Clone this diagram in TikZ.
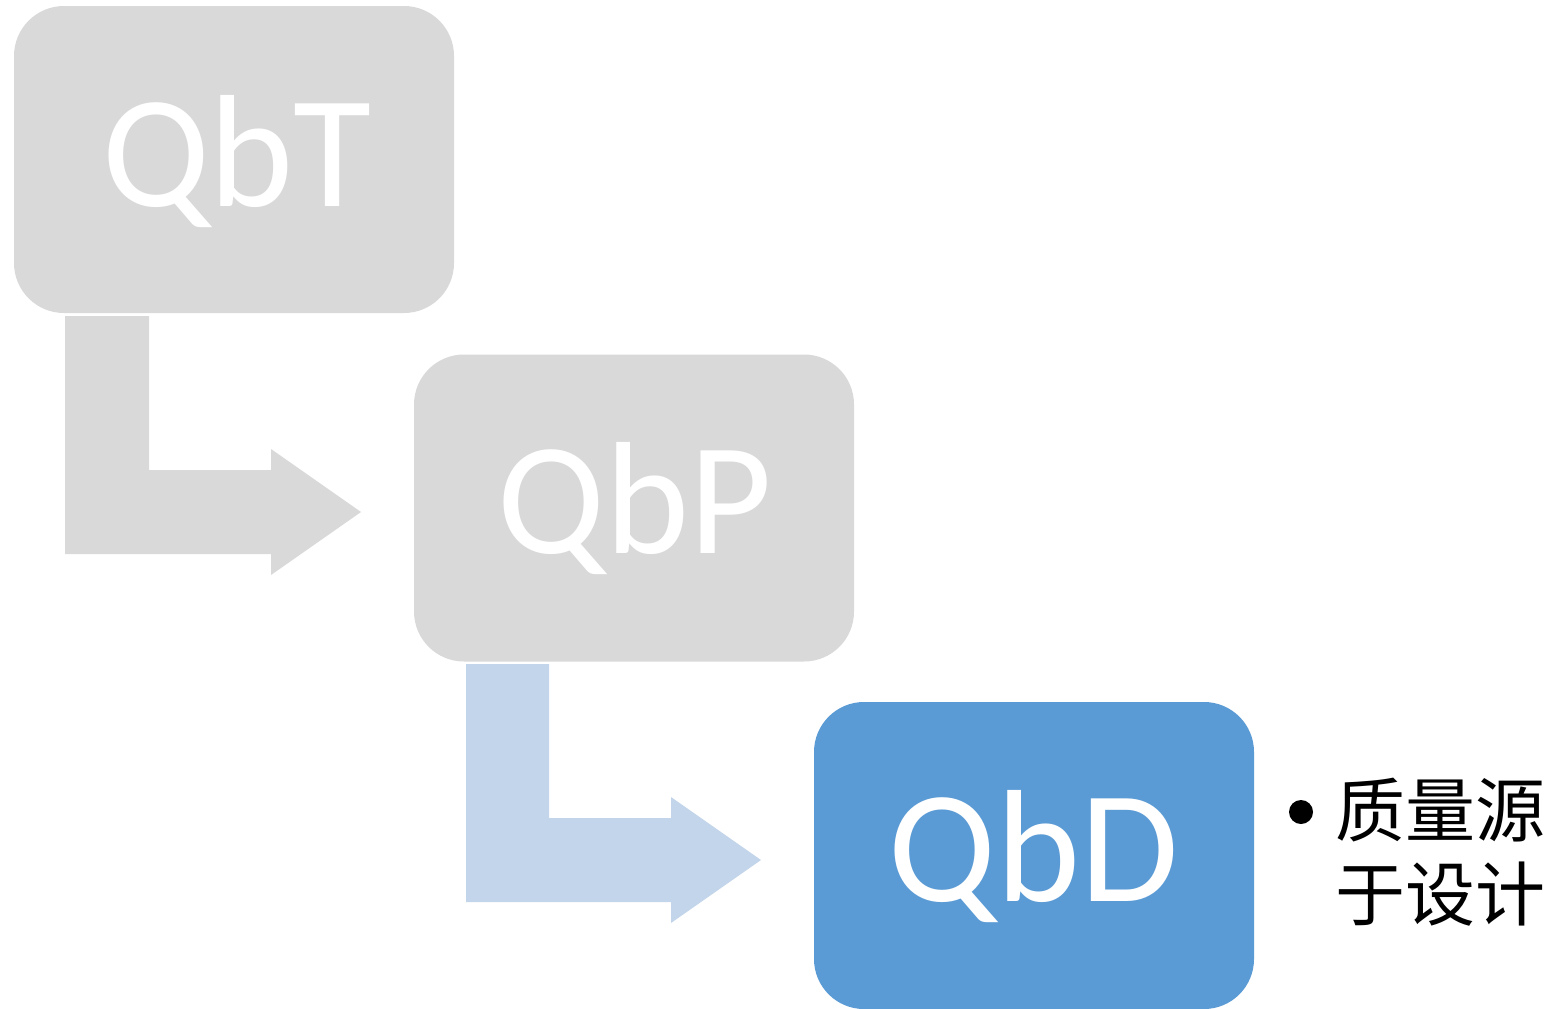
\documentclass[tikz,border=0pt]{standalone}
\usepackage{fontspec}
\setmainfont{Carlito}
\newfontfamily\cjk{Noto Sans CJK SC}
\definecolor{boxgray}{HTML}{D9D9D9}
\definecolor{boxblue}{HTML}{5B9BD5}
\definecolor{arrblue}{HTML}{C3D5EA}
\begin{document}
\begin{tikzpicture}[x=1pt,y=-1pt,
  stagebox/.style={rectangle,rounded corners=50pt,minimum width=440pt,minimum height=307pt,inner sep=0pt,draw=none},
  stagetext/.style={anchor=base,text=white,font=\fontsize{160}{160}\selectfont,inner sep=0pt},
  cjktext/.style={anchor=base west,inner sep=0pt,font=\cjk\fontsize{70}{84}\selectfont}]
\useasboundingbox (0,0) rectangle (1555,1009);
\fill[white] (0,0) rectangle (1555,1009);
% boxes
\node[stagebox,fill=boxgray] (qbt) at (234,159.5) {};
\node[stagebox,fill=boxgray] (qbp) at (634,508) {};
\node[stagebox,fill=boxblue] (qbd) at (1034,855.5) {};
% texts
\node[stagetext] (tqbt) at (237,206) {QbT};
\node[stagetext] (tqbp) at (635,553) {QbP};
\node[stagetext] (tqbd) at (1034,901) {QbD};
% bent arrows
\fill[boxgray] (65,316) -- (149,316) -- (149,470) -- (271,470) -- (271,449) -- (361,512)
  -- (271,575) -- (271,554) -- (65,554) -- cycle;
\fill[arrblue] (466,664) -- (549,664) -- (549,818) -- (671,818) -- (671,797) -- (761,860)
  -- (671,923) -- (671,902) -- (466,902) -- cycle;
% bullet text
\node[circle,fill=black,minimum size=24pt,inner sep=0pt] (bul) at (1301,812) {};
\node[cjktext] (l1) at (1335,836) {质量源};
\node[cjktext] (l2) at (1335,920) {于设计};
\end{tikzpicture}
\end{document}
